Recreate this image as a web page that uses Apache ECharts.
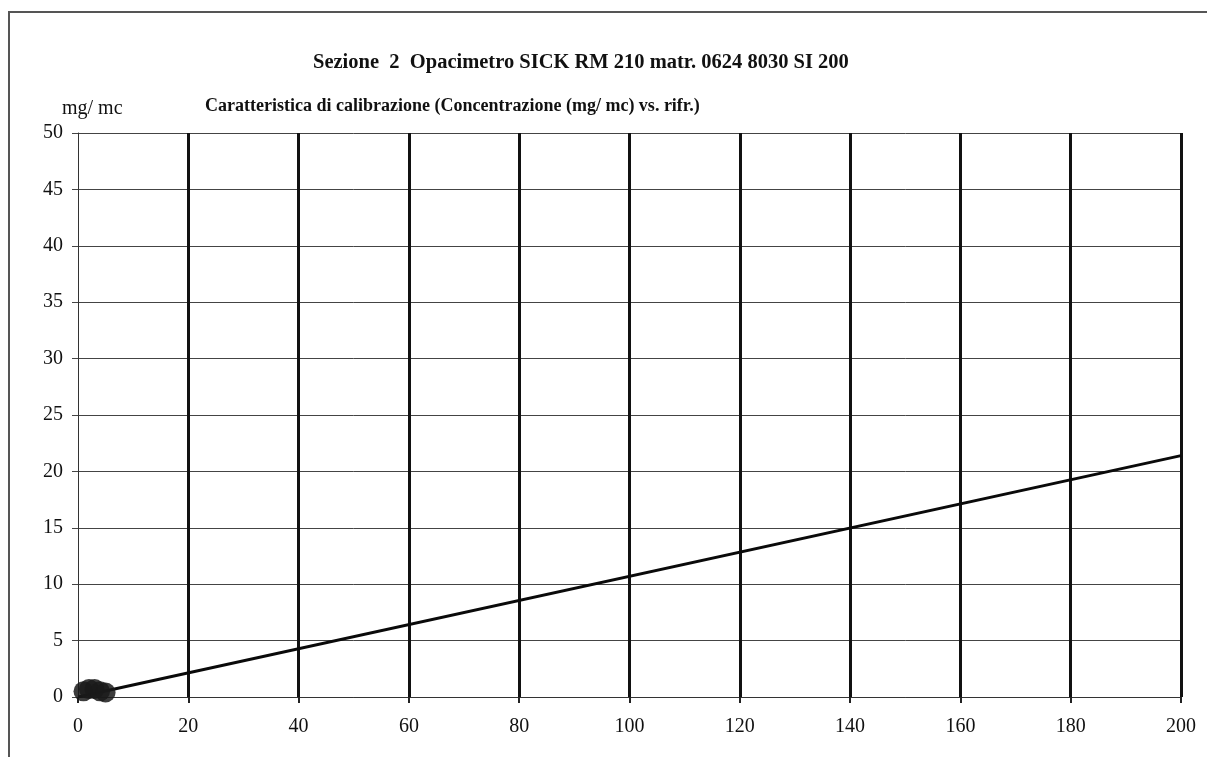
<!DOCTYPE html>
<html>
<head>
<meta charset="utf-8">
<script src="https://cdn.jsdelivr.net/npm/echarts@6/dist/echarts.min.js"></script>
<style>
  html, body { margin: 0; padding: 0; background: #fff; }
  #chart { width: 1207px; height: 757px; }
</style>
</head>
<body>
<div id="chart"></div>
<script>
// valori
const calibLine = [[0, 0], [200, 21.4]]
const measPoints = [[-0.3, 0.2], [1, 0.5], [2, 0.7], [3, 0.7], [4, 0.5], [5, 0.4]]
const xTicks = { min: 0, max: 200, interval: 20 }
const yTicks = { min: 0, max: 50, interval: 5 }

const serif = '"Liberation Serif", "DejaVu Serif", serif'

const chart = echarts.init(document.getElementById('chart'))

const option = {
  backgroundColor: '#fff',
  animation: false,
  grid: { left: 78, right: 26, top: 133, bottom: 60 },
  graphic: [
    {
      type: 'polyline',
      shape: { points: [[9, 757], [9, 12], [1207, 12]] },
      style: { stroke: '#555', lineWidth: 2, fill: null }
    },
    {
      type: 'text', left: 313, top: 52,
      style: { text: 'Sezione  2  Opacimetro SICK RM 210 matr. 0624 8030 SI 200', font: 'bold 20.5px ' + serif, fill: '#111' }
    },
    {
      type: 'text', left: 205, top: 97,
      style: { text: 'Caratteristica di calibrazione (Concentrazione (mg/ mc) vs. rifr.)', font: 'bold 18px ' + serif, fill: '#111' }
    },
    {
      type: 'text', left: 62, top: 99,
      style: { text: 'mg/ mc', font: '20px ' + serif, fill: '#111' }
    }
  ],
  xAxis: {
    type: 'value',
    min: xTicks.min,
    max: xTicks.max,
    interval: xTicks.interval,
    axisLine: { show: true, onZero: false, lineStyle: { color: '#333', width: 1 } },
    axisTick: { show: true, length: 6, lineStyle: { color: '#222', width: 2 } },
    axisLabel: { color: '#111', fontSize: 20, fontFamily: serif, margin: 20 },
    splitLine: { show: true, showMinLine: false, lineStyle: { color: '#111', width: 3 } }
  },
  yAxis: {
    type: 'value',
    min: yTicks.min,
    max: yTicks.max,
    interval: yTicks.interval,
    axisLine: { show: true, onZero: false, lineStyle: { color: '#333', width: 1 } },
    axisTick: { show: true, length: 6, lineStyle: { color: '#444', width: 1 } },
    axisLabel: { color: '#111', fontSize: 20, fontFamily: serif, margin: 15 },
    splitLine: { show: true, lineStyle: { color: '#444', width: 1 } }
  },
  series: [
    {
      type: 'line',
      data: calibLine,
      symbol: 'none',
      lineStyle: { color: '#0a0a0a', width: 3 },
      z: 3
    },
    {
      type: 'scatter',
      data: measPoints,
      symbol: 'circle',
      symbolSize: 20,
      itemStyle: { color: '#1a1a1a', opacity: 0.85 },
      z: 4
    }
  ]
}

chart.setOption(option)
</script>
</body>
</html>
